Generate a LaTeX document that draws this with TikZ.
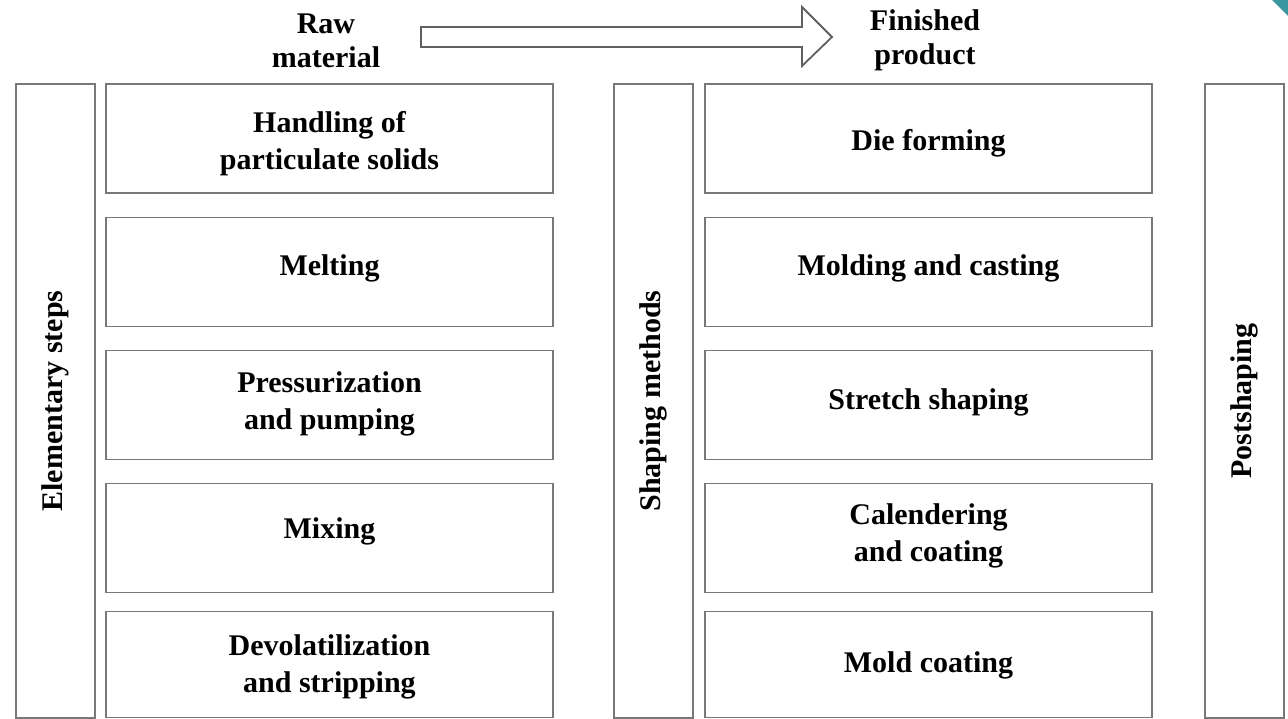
\documentclass[tikz,border=0pt]{standalone}
\usepackage{fontspec}
\setmainfont{Liberation Serif}
\definecolor{frame}{RGB}{120,120,120}
\definecolor{cornerteal}{RGB}{58,150,160}
\begin{document}
\begin{tikzpicture}[x=1pt,y=-1pt,
  box/.style={draw=frame, line width=1.8pt, rectangle, inner sep=0pt, outer sep=0pt},
  txt/.style={align=center, font=\fontsize{30}{37}\selectfont\bfseries, inner sep=0pt},
  stepbox/.style={box, minimum width=447pt, minimum height=109pt},
  sidebox/.style={box, minimum width=79pt, minimum height=634pt},
  heading/.style={align=center, font=\fontsize{30}{34}\selectfont\bfseries, inner sep=0pt}]
\useasboundingbox (0,0) rectangle (1288,719);
\fill[white] (0,0) rectangle (1288,719);

% corner mark
\fill[cornerteal] (1272,0) -- (1288,0) -- (1288,16) -- cycle;

% flow direction
\node[heading] (raw) at (326,40.5) {Raw\\material};
\node[heading] (fin) at (925,40.5) {Finished\\product};
\draw[draw=frame!80!black, line width=1.8pt, line join=miter]
  (421,27) -- (802,27) -- (802,7) -- (832,37) -- (802,66) -- (802,47) -- (421,47) -- cycle;

% side columns
\node[sidebox, label={[heading, rotate=90]center:Elementary steps}] (elem) at (55.5,401) {};
\node[sidebox, label={[heading, rotate=90]center:Shaping methods}] (shape) at (653.5,401) {};
\node[sidebox, label={[heading, rotate=90]center:Postshaping}] (post) at (1244.5,401) {};

% elementary steps
\node[stepbox, label={[txt, yshift=-5pt]center:{Handling of\\particulate solids}}] (e1) at (329.5,138.5) {};
\node[stepbox, label={[txt, yshift=4pt]center:Melting}] (e2) at (329.5,272) {};
\node[stepbox, label={[txt, yshift=1pt]center:{Pressurization\\and pumping}}] (e3) at (329.5,405) {};
\node[stepbox, label={[txt, yshift=6.5pt]center:Mixing}] (e4) at (329.5,538) {};
\node[stepbox, minimum height=106pt, label={[txt, yshift=-2.5pt]center:{Devolatilization\\and stripping}}] (e5) at (329.5,664.5) {};

% shaping methods
\node[stepbox, label={[txt, yshift=-5pt]center:Die forming}] (s1) at (928.5,138.5) {};
\node[stepbox, label={[txt, yshift=4pt]center:Molding and casting}] (s2) at (928.5,272) {};
\node[stepbox, label={[txt, yshift=3pt]center:Stretch shaping}] (s3) at (928.5,405) {};
\node[stepbox, label={[txt, yshift=2pt]center:{Calendering\\and coating}}] (s4) at (928.5,538) {};
\node[stepbox, minimum height=106pt, label={[txt, yshift=-0.5pt]center:Mold coating}] (s5) at (928.5,664.5) {};
\end{tikzpicture}
\end{document}
